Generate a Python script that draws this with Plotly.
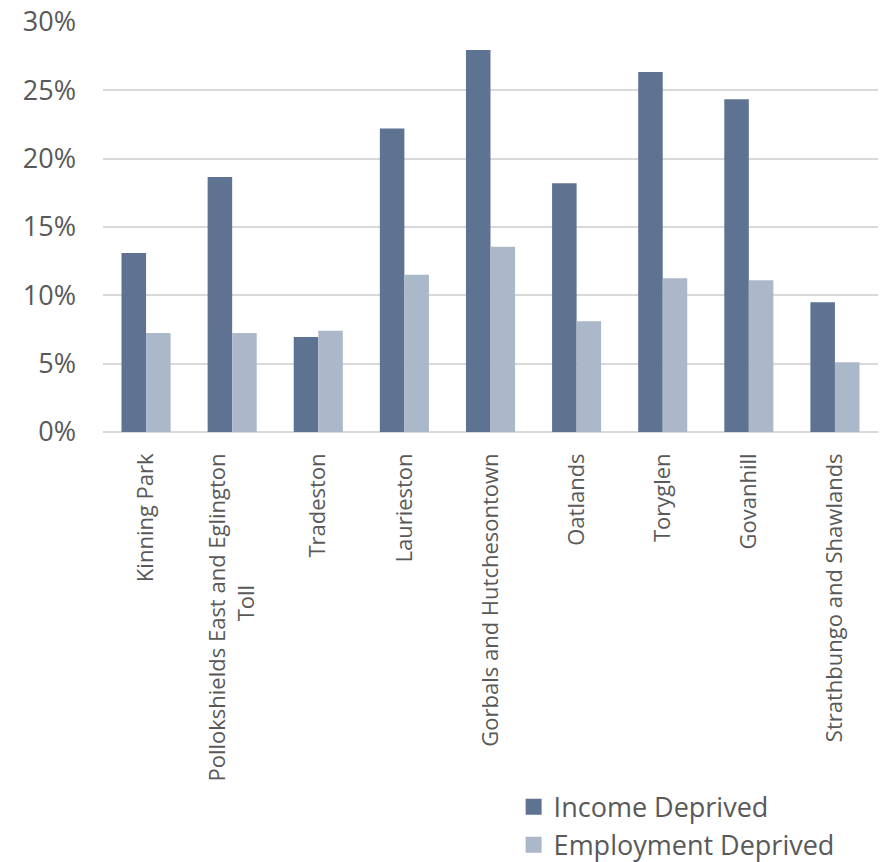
import plotly.graph_objects as go

NB = "\u00a0"
categories = ["Kinning Park", "Pollokshields East and Eglington<br>Toll" + NB * 23, "Tradeston",
              "Laurieston", "Gorbals and Hutchesontown", "Oatlands", "Toryglen",
              "Govanhill", "Strathbungo and Shawlands"]
income = [13.1, 18.65, 6.95, 22.2, 27.95, 18.2, 26.35, 24.35, 9.5]
employment = [7.25, 7.25, 7.4, 11.5, 13.55, 8.1, 11.25, 11.1, 5.1]
y_ticks = [0, 5, 10, 15, 20, 25, 30]
y_tick_text = ["0%", "5%", "10%", "15%", "20%", "25%", "30%"]
series_names = ["Income Deprived", "Employment Deprived"]
colors = ["#5E7391", "#ABB8CA"]

font = "Open Sans"
grey = "#595959"

fig = go.Figure()
for vals, name, col in zip([income, employment], series_names, colors):
    fig.add_trace(go.Bar(x=categories, y=vals, name=name, showlegend=False,
                         marker=dict(color=col, line=dict(width=0))))
# legend entries with larger square swatches
for name, col in zip(series_names, colors):
    fig.add_trace(go.Scatter(x=[None], y=[None], mode="markers", name=name,
                             marker=dict(symbol="square", size=18, color=col)))

fig.update_layout(
    width=881, height=862,
    margin=dict(l=103, r=3, t=22, b=430, autoexpand=False),
    paper_bgcolor="white", plot_bgcolor="white",
    barmode="group", bargap=0.43, bargroupgap=0,
    font=dict(family=font, color=grey),
    showlegend=True,
    legend=dict(xref="container", yref="container", x=0.583, y=0.092,
                xanchor="left", yanchor="top",
                font=dict(size=27, color=grey, family=font),
                bgcolor="rgba(0,0,0,0)", tracegroupgap=0, itemwidth=30),
    xaxis=dict(tickangle=-90, tickfont=dict(size=22, color=grey),
               showgrid=False, showline=False, ticks="", automargin=False,
               ticklabelstandoff=16),
    yaxis=dict(range=[0, 30], tickvals=y_ticks, ticktext=y_tick_text,
               tickfont=dict(size=27, color=grey), automargin=False,
               showgrid=True, gridcolor="#D9D9D9", gridwidth=2,
               zeroline=True, zerolinecolor="#D9D9D9", zerolinewidth=2,
               showline=False, ticks="", ticklabelstandoff=26),
)

fig.write_html("out.html")
